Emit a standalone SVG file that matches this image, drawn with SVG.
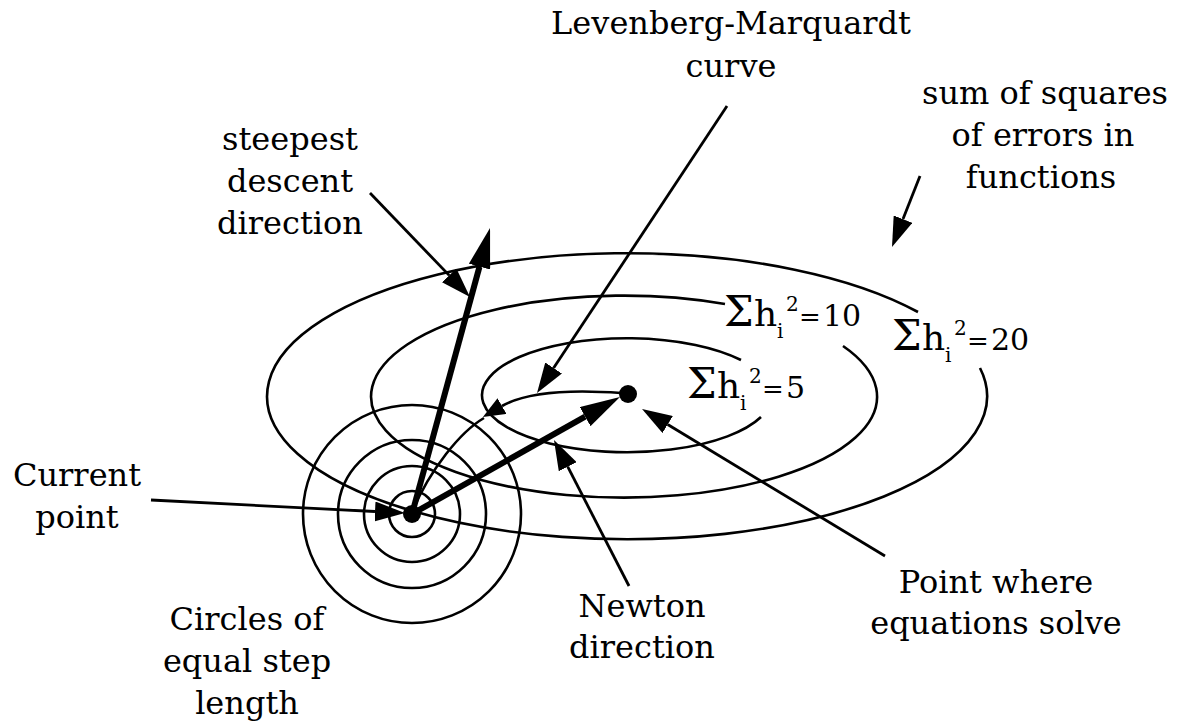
<svg xmlns="http://www.w3.org/2000/svg" width="1180" height="722" viewBox="0 0 1180 722">
<style>
.lbl{font-family:"DejaVu Serif","Liberation Serif",serif;font-size:32px;fill:#000;text-anchor:middle}
.sig{font-family:"DejaVu Serif","Liberation Serif",serif;fill:#000}
.contour{fill:none;stroke:#000;stroke-width:2.6}
.thin{fill:none;stroke:#000;stroke-width:2.8;marker-end:url(#ah)}
.thick{fill:none;stroke:#000;stroke-width:6;marker-end:url(#ahThick)}
.lm{fill:none;stroke:#000;stroke-width:2.6}
</style>
<defs>
<marker id="ah" viewBox="0 -10 30 20" refX="0" refY="0" markerWidth="30" markerHeight="20" markerUnits="userSpaceOnUse" orient="auto"><path d="M0,-10 L30,0 L0,10 z" fill="#000"/></marker>
<marker id="ahThick" viewBox="0 -11 40 22" refX="0" refY="0" markerWidth="40" markerHeight="22" markerUnits="userSpaceOnUse" orient="auto"><path d="M0,-11 L40,0 L0,11 z" fill="#000"/></marker>
<marker id="ahSmall" viewBox="0 -9 22 18" refX="0" refY="0" markerWidth="22" markerHeight="18" markerUnits="userSpaceOnUse" orient="auto"><path d="M0,-9 L22,0 L0,9 z" fill="#000"/></marker>
</defs>
<rect width="1180" height="722" fill="#fff"/>

<g id="contours">
<path class="contour" d="M918,312 A360,143 0 1 0 980,368"/>
<path class="contour" d="M725,304 A253,101 0 1 0 843,346"/>
<path class="contour" d="M741,360 A145,57 0 1 0 761,417"/>
</g>

<g id="step-circles" fill="none" stroke="#000" stroke-width="2.6">
<circle cx="412" cy="514" r="23"/>
<circle cx="412" cy="514" r="48"/>
<circle cx="412" cy="514" r="74"/>
<circle cx="412" cy="514" r="109"/>
</g>

<g id="connectors">
<line class="thick" x1="412" y1="514" x2="479.5" y2="266.6"/>
<line class="thick" x1="412" y1="514" x2="585.1" y2="416.6"/>
<path class="lm" d="M621,393 C580,390 530,390 502,406" marker-end="url(#ahSmall)"/>
<path class="lm" d="M484,418 C460,432 430,470 413,510"/>
<line class="thin" x1="151" y1="500" x2="375" y2="511.5"/>
<line class="thin" x1="727" y1="106" x2="553.6" y2="368"/>
<line class="thin" x1="370" y1="193" x2="449.2" y2="275.4"/>
<line class="thin" x1="629" y1="586" x2="567.7" y2="466.7"/>
<line class="thin" x1="885" y1="556" x2="667.7" y2="424.5"/>
<line class="thin" x1="920" y1="176" x2="903" y2="219.1"/>
</g>

<g id="current-point-dot"><circle cx="412" cy="514" r="9" fill="#000"/></g>
<g id="solution-dot"><circle cx="628" cy="394" r="9" fill="#000"/></g>

<g id="label-sum20">
<text class="sig"><tspan x="892" y="350" font-size="42">Σ</tspan><tspan x="922" y="350" font-size="36">h</tspan><tspan x="945" y="362" font-size="20">i</tspan><tspan x="954" y="335" font-size="20">2</tspan><tspan x="967" y="350" font-size="26">=</tspan><tspan x="991" y="350" font-size="30">20</tspan></text>
</g>
<g id="label-sum10">
<text class="sig"><tspan x="724" y="326" font-size="42">Σ</tspan><tspan x="754" y="326" font-size="36">h</tspan><tspan x="777" y="338" font-size="20">i</tspan><tspan x="786" y="311" font-size="20">2</tspan><tspan x="799" y="326" font-size="26">=</tspan><tspan x="823" y="326" font-size="30">10</tspan></text>
</g>
<g id="label-sum5">
<text class="sig"><tspan x="687" y="398" font-size="42">Σ</tspan><tspan x="717" y="398" font-size="36">h</tspan><tspan x="740" y="410" font-size="20">i</tspan><tspan x="749" y="383" font-size="20">2</tspan><tspan x="762" y="398" font-size="26">=</tspan><tspan x="786" y="398" font-size="30">5</tspan></text>
</g>

<g id="label-lm">
<text class="lbl" x="731" y="34">Levenberg-Marquardt</text>
<text class="lbl" x="731" y="77">curve</text>
</g>
<g id="label-sumsq">
<text class="lbl" x="1045" y="104">sum of squares</text>
<text class="lbl" x="1043" y="146">of errors in</text>
<text class="lbl" x="1041" y="188">functions</text>
</g>
<g id="label-steepest">
<text class="lbl" x="290" y="150">steepest</text>
<text class="lbl" x="290" y="192">descent</text>
<text class="lbl" x="290" y="234">direction</text>
</g>
<g id="label-current">
<text class="lbl" x="77" y="486">Current</text>
<text class="lbl" x="77" y="528">point</text>
</g>
<g id="label-circles">
<text class="lbl" x="247" y="630">Circles of</text>
<text class="lbl" x="247" y="672">equal step</text>
<text class="lbl" x="247" y="714">length</text>
</g>
<g id="label-newton">
<text class="lbl" x="642" y="617">Newton</text>
<text class="lbl" x="642" y="658">direction</text>
</g>
<g id="label-solution">
<text class="lbl" x="996" y="593">Point where</text>
<text class="lbl" x="996" y="634">equations solve</text>
</g>
</svg>
